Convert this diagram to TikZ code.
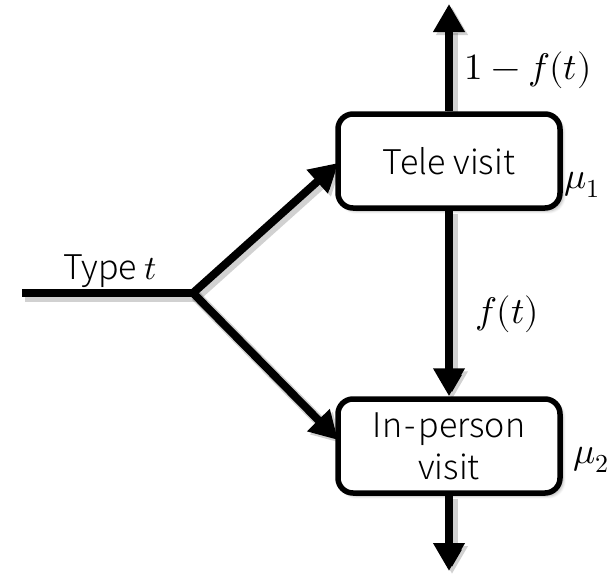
\documentclass[tikz,border=0pt]{standalone}
\usepackage{fontspec}
\usepackage{unicode-math}
\setmathfont{Latin Modern Math}
\newfontfamily\labelfont{Noto Sans CJK SC}[UprightFont=* Light]
\usetikzlibrary{arrows.meta,shadows.blur}
\tikzset{
  softshadow/.style={preaction={draw=black, draw opacity=0.18, line width=11pt,
    transform canvas={shift={(3pt,-3pt)}}}},
  flow/.style={softshadow, line width=8pt,
    -{Triangle[length=28pt,width=30pt]}},
  plain/.style={softshadow, line width=8pt},
  visitbox/.style={draw, line width=5.5pt, rounded corners=15pt, fill=white,
    minimum width=222pt, minimum height=94pt, align=center,
    blur shadow={shadow xshift=3pt, shadow yshift=-3pt, shadow opacity=30,
      shadow blur steps=6, shadow blur radius=3pt},
    font=\labelfont\fontsize{34}{42}\selectfont},
  tag/.style={font=\fontsize{37}{44}\selectfont, inner sep=0pt},
}
\begin{document}
\begin{tikzpicture}[x=1pt,y=-1pt]
\useasboundingbox (0,0) rectangle (612,573);
% entry line and split point
\coordinate (start) at (22,293);
\coordinate (split) at (193,293);
\coordinate (out1) at (449,4);
\coordinate (out2) at (449,571);
\coordinate (teleIn) at (338,163);
\coordinate (inpIn) at (338,440);
% connectors first, boxes on top
\draw[plain, line cap=butt] (start) -- (split);
\draw[flow, line join=miter] (split) -- (teleIn);
\draw[flow] (split) -- (inpIn);
% service stations
\node[visitbox] (tele) at (449,161) {Tele visit};
\node[visitbox] (inp) at (449,446) {In\kern2.5pt-\kern2.5pt person\\visit};
\draw[flow] (tele.south) -- (inp.north);
\draw[flow] (tele.north) -- (out1);
\draw[flow] (inp.south) -- (out2);
% labels
\node[tag] (tlabel) at (110,271) {\labelfont\fontsize{34}{40}\selectfont Type \(t\)};
\node[tag] (p1) at (528,70) {\(1-f(t)\)};
\node[tag] (p2) at (507,314) {\(f(t)\)};
\node[tag] (m1) at (582,185) {\(\mu_1\)};
\node[tag] (m2) at (591,460) {\(\mu_2\)};
\end{tikzpicture}
\end{document}
